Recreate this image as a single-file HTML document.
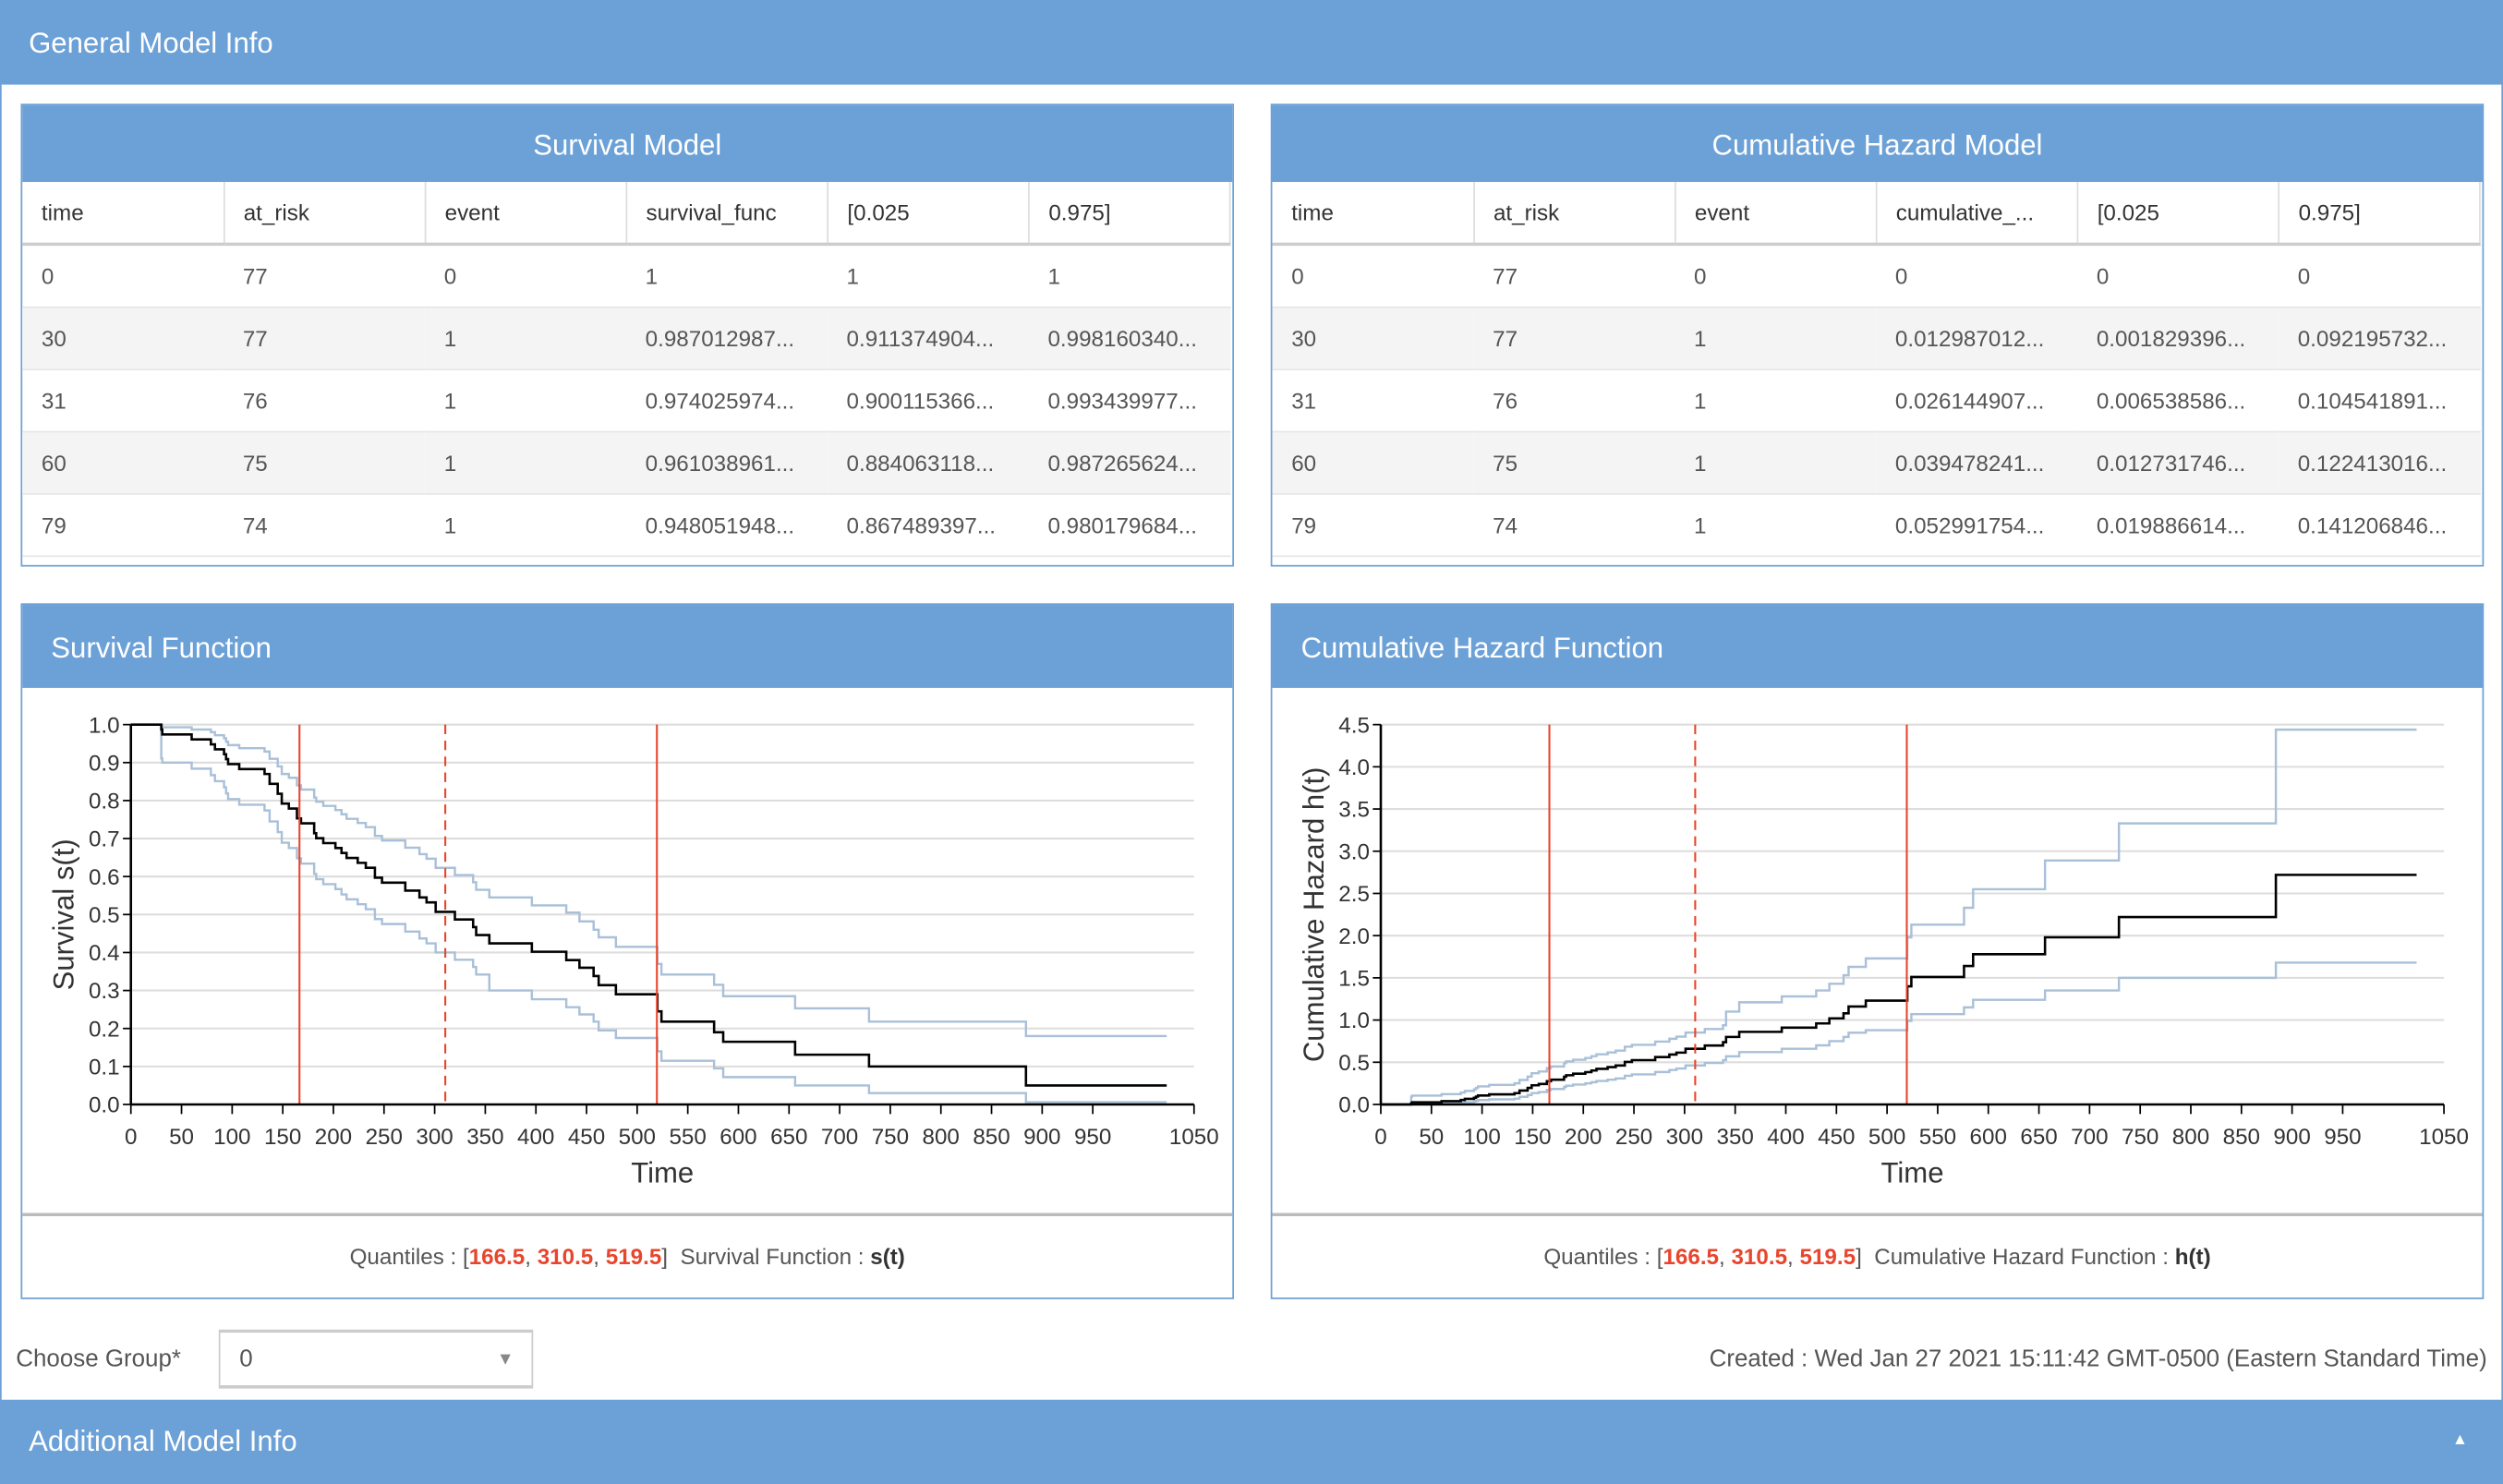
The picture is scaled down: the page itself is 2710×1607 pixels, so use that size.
<!DOCTYPE html>
<html><head><meta charset="utf-8">
<style>
html,body{margin:0;padding:0;width:2710px;height:1606px;overflow:hidden;background:#fff}
#root{position:absolute;left:0;top:0;width:1568px;height:929.2px;transform:scale(1.72832);transform-origin:0 0;font-family:"Liberation Sans",sans-serif;color:#444}
.edge{position:absolute;top:0;width:1px;height:929px;background:#6ca1d7}
.bar{position:absolute;left:0;width:1568px;background:#6ca1d7;color:#fff;font-size:18px}
.panel{position:absolute;border:1px solid #6ca1d7;box-sizing:border-box;background:#fff}
.ph{position:absolute;left:0;right:0;top:0;background:#6ca1d7;color:#fff;font-size:18px}
table{position:absolute;left:0;top:48px;border-collapse:collapse;font-size:14px;table-layout:fixed;width:757px}
td,th{height:38px;padding:0 0 0 12px;text-align:left;font-weight:normal;white-space:nowrap;overflow:hidden;border-bottom:1px solid #e6e6e6;color:#555}
th{border-right:1px solid #ddd;border-bottom:2px solid #ccc;color:#333}
tr:nth-child(odd) td{background:#f4f4f4}
.foot{position:absolute;left:0;right:0;bottom:0;height:51px;border-top:2px solid #bbb;text-align:center;font-size:14px;line-height:51px;color:#555}
.red{color:#e8452c;font-weight:bold}
svg text{font-family:"Liberation Sans",sans-serif}
</style></head><body>
<div id="root">
<div class="edge" style="left:0"></div><div class="edge" style="right:0"></div>
<div class="bar" style="top:0;height:53px;line-height:55px;padding-left:18px;box-sizing:border-box">General Model Info</div>

<div class="panel" style="left:13px;top:65px;width:760px;height:290px">
<div class="ph" style="height:48px;line-height:50px;text-align:center">Survival Model</div>
<table>
<tr><th>time</th><th>at_risk</th><th>event</th><th>survival_func</th><th>[0.025</th><th>0.975]</th></tr>
<tr><td>0</td><td>77</td><td>0</td><td>1</td><td>1</td><td>1</td></tr>
<tr><td>30</td><td>77</td><td>1</td><td>0.987012987...</td><td>0.911374904...</td><td>0.998160340...</td></tr>
<tr><td>31</td><td>76</td><td>1</td><td>0.974025974...</td><td>0.900115366...</td><td>0.993439977...</td></tr>
<tr><td>60</td><td>75</td><td>1</td><td>0.961038961...</td><td>0.884063118...</td><td>0.987265624...</td></tr>
<tr><td>79</td><td>74</td><td>1</td><td>0.948051948...</td><td>0.867489397...</td><td>0.980179684...</td></tr>
</table></div>

<div class="panel" style="left:796px;top:65px;width:760px;height:290px">
<div class="ph" style="height:48px;line-height:50px;text-align:center">Cumulative Hazard Model</div>
<table>
<tr><th>time</th><th>at_risk</th><th>event</th><th>cumulative_...</th><th>[0.025</th><th>0.975]</th></tr>
<tr><td>0</td><td>77</td><td>0</td><td>0</td><td>0</td><td>0</td></tr>
<tr><td>30</td><td>77</td><td>1</td><td>0.012987012...</td><td>0.001829396...</td><td>0.092195732...</td></tr>
<tr><td>31</td><td>76</td><td>1</td><td>0.026144907...</td><td>0.006538586...</td><td>0.104541891...</td></tr>
<tr><td>60</td><td>75</td><td>1</td><td>0.039478241...</td><td>0.012731746...</td><td>0.122413016...</td></tr>
<tr><td>79</td><td>74</td><td>1</td><td>0.052991754...</td><td>0.019886614...</td><td>0.141206846...</td></tr>
</table></div>

<div class="panel" style="left:13px;top:378px;width:760px;height:436px">
<div class="ph" style="height:52px;line-height:54px;padding-left:18px">Survival Function</div>
<svg id="svgS" style="position:absolute;left:-14px;top:-379px" width="1568" height="929"></svg>
<div class="foot">Quantiles : [<span class="red">166.5</span>, <span class="red">310.5</span>, <span class="red">519.5</span>]&nbsp; Survival Function : <b style="color:#333">s(t)</b></div>
</div>

<div class="panel" style="left:796px;top:378px;width:760px;height:436px">
<div class="ph" style="height:52px;line-height:54px;padding-left:18px">Cumulative Hazard Function</div>
<svg id="svgH" style="position:absolute;left:-797px;top:-379px" width="1568" height="929"></svg>
<div class="foot">Quantiles : [<span class="red">166.5</span>, <span class="red">310.5</span>, <span class="red">519.5</span>]&nbsp; Cumulative Hazard Function : <b style="color:#333">h(t)</b></div>
</div>

<div style="position:absolute;left:10px;top:843px;font-size:15px;color:#555">Choose Group*</div>
<div style="position:absolute;left:137px;top:833px;width:197px;height:37px;border:1px solid #ccc;border-width:2px 1px;box-sizing:border-box;font-size:15px;line-height:34px;padding-left:12px;color:#555">0<span style="position:absolute;right:11px;top:0;color:#888;font-size:11px">&#9660;</span></div>
<div style="position:absolute;right:10px;top:843px;font-size:15px;color:#555">Created : Wed Jan 27 2021 15:11:42 GMT-0500 (Eastern Standard Time)</div>
<div class="bar" style="top:877px;height:53px;line-height:52px;padding-left:18px;box-sizing:border-box">Additional Model Info<span style="position:absolute;right:22px;top:0;font-size:10px">&#9650;</span></div>
</div>

<script>
const times=[0,30,31,60,79,83,92,94,96,107,132,137,145,149,156,164,168,181,183,190,202,208,213,224,232,241,248,271,285,292,301,320,338,341,354,396,430,443,457,462,479,520,524,576,585,656,729,884];
const endTime=1023;
const surv=[1,.987,.974,.961,.948,.935,.922,.909,.896,.883,.870,.844,.818,.792,.779,.753,.740,.714,.701,.688,.675,.662,.649,.636,.623,.597,.584,.563,.545,.532,.507,.487,.467,.446,.424,.402,.380,.360,.338,.314,.290,.245,.218,.190,.165,.131,.100,.050];
const survLo=[1,.911,.900,.884,.867,.851,.835,.819,.804,.789,.774,.745,.717,.689,.675,.648,.634,.607,.593,.580,.567,.553,.540,.527,.514,.488,.475,.455,.437,.424,.400,.381,.362,.342,.300,.277,.256,.237,.218,.195,.175,.140,.115,.095,.072,.050,.030,.006];
const survUp=[1,.998,.993,.987,.980,.972,.964,.955,.946,.938,.929,.910,.890,.870,.860,.840,.829,.808,.797,.786,.775,.764,.752,.741,.730,.707,.695,.676,.659,.647,.623,.604,.585,.565,.545,.524,.505,.482,.460,.440,.415,.370,.342,.315,.285,.253,.218,.180];
const haz=[0,.013,.026,.039,.053,.066,.079,.093,.106,.120,.134,.165,.196,.227,.243,.276,.293,.328,.346,.364,.383,.402,.422,.442,.462,.504,.525,.561,.591,.614,.660,.698,.738,.80,.86,.91,.96,1.02,1.08,1.16,1.23,1.40,1.51,1.64,1.78,1.98,2.22,2.72];
const hazLo=[0,.002,.007,.013,.020,.027,.035,.043,.052,.060,.069,.090,.112,.135,.147,.171,.183,.208,.222,.236,.250,.264,.278,.293,.308,.340,.356,.384,.408,.426,.462,.492,.524,.57,.62,.66,.70,.75,.80,.85,.88,.99,1.07,1.15,1.24,1.35,1.50,1.68];
const hazUp=[0,.092,.105,.122,.141,.160,.178,.196,.214,.232,.250,.290,.330,.370,.390,.430,.450,.490,.510,.530,.550,.572,.594,.616,.638,.684,.706,.745,.778,.803,.852,.894,.938,1.10,1.21,1.28,1.35,1.43,1.53,1.63,1.73,1.98,2.13,2.33,2.55,2.89,3.33,4.44];
const quantiles=[166.5,310.5,519.5];
const xTicks=[0,50,100,150,200,250,300,350,400,450,500,550,600,650,700,750,800,850,900,950,1050];
const sTicks=[0,.1,.2,.3,.4,.5,.6,.7,.8,.9,1.0];
const hTicks=[0,.5,1,1.5,2,2.5,3,3.5,4,4.5];
const NS='http://www.w3.org/2000/svg';
function mk(svg,tag,attrs,txt){const e=document.createElementNS(NS,tag);for(const k in attrs)e.setAttribute(k,attrs[k]);if(txt!==undefined)e.textContent=txt;svg.appendChild(e);return e;}
function chart(id,x0,vals,lo,up,yTicks,yMax,ylab){
 const svg=document.getElementById(id);
 const X=t=>x0+t/1050*666, Y=v=>692-v/yMax*238;
 yTicks.forEach(v=>{
  const g=mk(svg,'line',{x1:X(0),x2:X(1050),y1:Y(v),y2:Y(v),stroke:'#ddd','stroke-width':1.2});
  
  
  mk(svg,'line',{x1:X(0)-5,x2:X(0),y1:Y(v),y2:Y(v),stroke:'#000'});
  const t=mk(svg,'text',{x:X(0)-7,y:Y(v)+5,'text-anchor':'end','font-size':14,fill:'#333'},v.toFixed(1));
  
  
 });
 xTicks.forEach(v=>{
  mk(svg,'line',{x1:X(v),x2:X(v),y1:692,y2:698,stroke:'#000'});
  const t=mk(svg,'text',{x:X(v),y:717,'text-anchor':'middle','font-size':14,fill:'#333'},String(v));
  
  
 });
 function path(arr,col,w,name){
  let d='M'+X(times[0])+','+Y(arr[0]);
  for(let i=1;i<times.length;i++){d+='H'+X(times[i])+'V'+Y(arr[i]);}
  d+='H'+X(endTime);
  const p=mk(svg,'path',{d:d,fill:'none',stroke:col,'stroke-width':w});
  
  
 }
 path(lo,'#a9c0d8',1.4,'ci-lower-line');
 path(up,'#a9c0d8',1.4,'ci-upper-line');
 path(vals,'#000',1.5,'estimate-line');
 quantiles.forEach((q,i)=>{
  const l=mk(svg,'line',{x1:X(q),x2:X(q),y1:Y(yMax),y2:692,stroke:'#e8452c','stroke-width':1.2});
  if(i===1)l.setAttribute('stroke-dasharray','6,4');
  
  
 });
 mk(svg,'line',{x1:X(0),x2:X(0),y1:Y(yMax),y2:692,stroke:'#000','stroke-width':1.5});
 mk(svg,'line',{x1:X(0),x2:X(1050),y1:692,y2:692,stroke:'#000','stroke-width':1.5});
 const xt=mk(svg,'text',{x:X(525),y:741,'text-anchor':'middle','font-size':18,fill:'#333'},'Time');
 
 
 const yt=mk(svg,'text',{x:0,y:0,'text-anchor':'middle','font-size':18,fill:'#333',transform:'translate('+(x0-36)+',573) rotate(-90)'},ylab);
 
 
}
chart('svgS',82,surv,survLo,survUp,sTicks,1.0,'Survival s(t)');
chart('svgH',865,haz,hazLo,hazUp,hTicks,4.5,'Cumulative Hazard h(t)');
</script>
</body></html>
